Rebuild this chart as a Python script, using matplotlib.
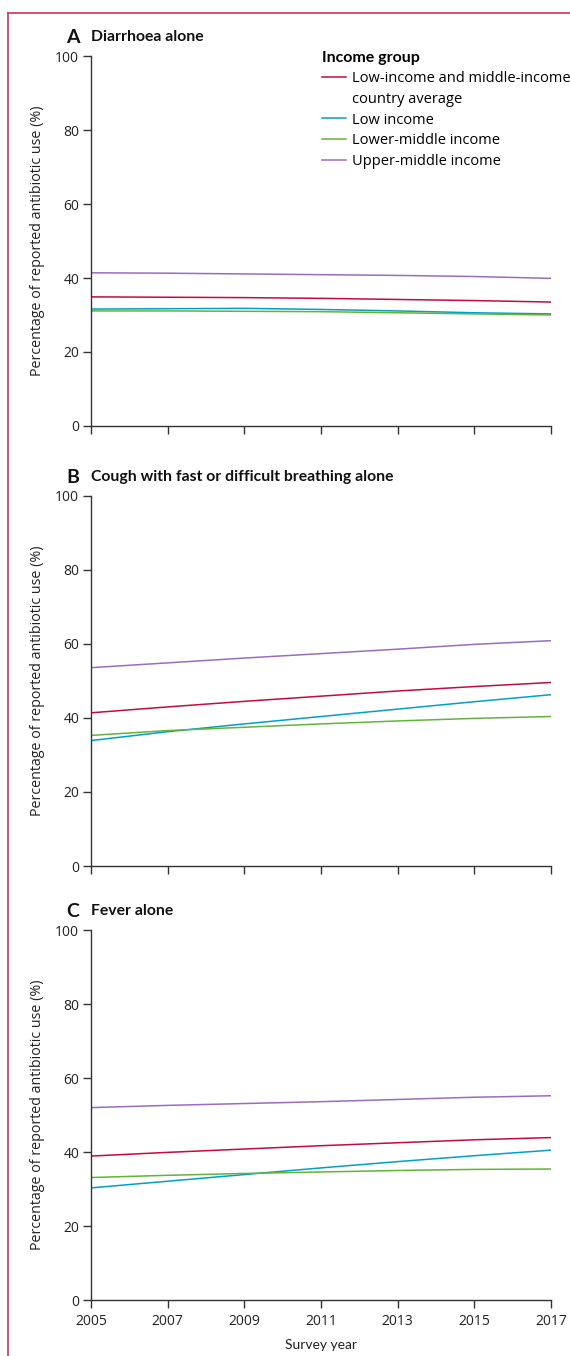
import matplotlib
matplotlib.use("Agg")
import matplotlib.pyplot as plt
from matplotlib.lines import Line2D

plt.rcParams['font.family'] = ['Open Sans', 'DejaVu Sans']

years = [2005, 2007, 2009, 2011, 2013, 2015, 2017]
groups = ["Low-income and middle-income\ncountry average", "Low income",
          "Lower-middle income", "Upper-middle income"]
colors = ["#c10d3d", "#00a0c8", "#62b43a", "#9a6cbf"]

panel_letters = ["A", "B", "C"]
panel_titles = ["Diarrhoea alone", "Cough with fast or difficult breathing alone", "Fever alone"]

# A: diarrhoea alone
diarrhoea_avg = [34.9, 34.8, 34.7, 34.5, 34.2, 33.9, 33.5]
diarrhoea_low = [31.6, 31.7, 31.8, 31.5, 31.1, 30.6, 30.3]
diarrhoea_lmid = [31.1, 31.1, 31.0, 30.9, 30.6, 30.3, 30.0]
diarrhoea_umid = [41.4, 41.3, 41.1, 40.9, 40.7, 40.4, 39.9]

# B: cough with fast or difficult breathing alone
cough_avg = [41.4, 43.0, 44.5, 45.9, 47.3, 48.5, 49.6]
cough_low = [33.9, 36.3, 38.4, 40.4, 42.4, 44.4, 46.3]
cough_lmid = [35.3, 36.6, 37.5, 38.4, 39.2, 39.9, 40.4]
cough_umid = [53.6, 54.9, 56.2, 57.4, 58.6, 59.9, 60.9]

# C: fever alone
fever_avg = [38.9, 39.9, 40.8, 41.7, 42.5, 43.3, 43.9]
fever_low = [30.3, 32.1, 33.9, 35.7, 37.4, 39.0, 40.5]
fever_lmid = [33.1, 33.7, 34.2, 34.6, 35.0, 35.3, 35.4]
fever_umid = [52.0, 52.6, 53.1, 53.6, 54.2, 54.8, 55.2]

panels = [
    [diarrhoea_avg, diarrhoea_low, diarrhoea_lmid, diarrhoea_umid],
    [cough_avg, cough_low, cough_lmid, cough_umid],
    [fever_avg, fever_low, fever_lmid, fever_umid],
]

fig = plt.figure(figsize=(5.7, 13.56), dpi=100)

# pink frame lines (top and left)
frame_col = "#c8365a"
fig.add_artist(Line2D([8 / 570, 1.0], [1 - 13 / 1356, 1 - 13 / 1356], color=frame_col, lw=1.2))
fig.add_artist(Line2D([8 / 570, 8 / 570], [0, 1 - 13 / 1356], color=frame_col, lw=1.2))

axis_col = "#333333"
text_col = "#222222"
left = 91 / 570
width = 460 / 570
height = 370 / 1356
bottoms = [1 - 426 / 1356, 1 - 866 / 1356, 1 - 1300 / 1356]

for i, series in enumerate(panels):
    ax = fig.add_axes([left, bottoms[i], width, height])
    handles = []
    for vals, col in zip(series, colors):
        h, = ax.plot(years, vals, color=col, lw=1.1)
        handles.append(h)
    ax.set_xlim(2005, 2017)
    ax.set_ylim(0, 100)
    ax.set_xticks(years)
    ax.set_yticks([0, 20, 40, 60, 80, 100])
    for s in ["top", "right"]:
        ax.spines[s].set_visible(False)
    for s in ["left", "bottom"]:
        ax.spines[s].set_color(axis_col)
        ax.spines[s].set_linewidth(1.0)
    ax.tick_params(axis="both", direction="out", length=5.5, width=1.0,
                   color=axis_col, labelsize=10, labelcolor=text_col)
    ax.tick_params(axis="y", pad=3)
    ax.tick_params(axis="x", pad=4.5)
    if i < 2:
        ax.tick_params(axis="x", labelbottom=False)
    else:
        ax.set_xlabel("Survey year", fontsize=10, color=text_col, labelpad=7,
                      family=["Lato", "DejaVu Sans"])
    ax.set_ylabel("Percentage of reported antibiotic use (%)", fontsize=10.3,
                  color=text_col, labelpad=7)
    ax.text(-0.054, 1.051, panel_letters[i], transform=ax.transAxes, fontsize=14,
            fontweight="bold", va="center", ha="left", color="#111111",
            family=["Lato", "DejaVu Sans"])
    ax.text(0.0, 1.051, panel_titles[i], transform=ax.transAxes, fontsize=11.3,
            fontweight="bold", va="center", ha="left", color="#111111",
            family=["Lato", "DejaVu Sans"])

    if i == 0:
        blank = Line2D([], [], color="none")
        leg_handles = [handles[0], blank, handles[1], handles[2], handles[3]]
        leg_labels = ["Low-income and middle-income", "country average",
                      groups[1], groups[2], groups[3]]
        leg = ax.legend(leg_handles, leg_labels, title="Income group",
                        loc="upper left", bbox_to_anchor=(0.49, 1.028),
                        frameon=False, fontsize=10.5, handlelength=1.6,
                        handletextpad=0.45, labelspacing=0.39,
                        alignment="left", borderaxespad=0)
        leg.get_title().set_fontweight("bold")
        leg.get_title().set_fontsize(11.5)
        leg.get_title().set_family(["Lato", "DejaVu Sans"])

fig.savefig("out.png", dpi=100)
